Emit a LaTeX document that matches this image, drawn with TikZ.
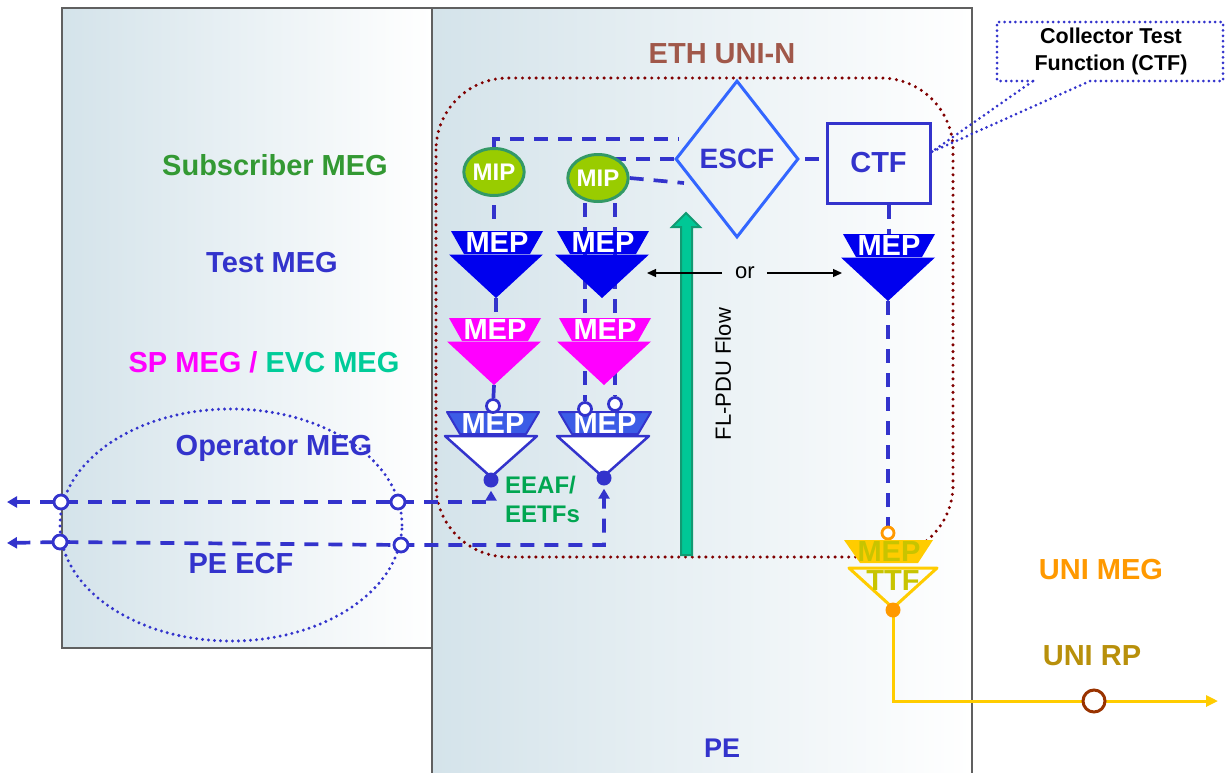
\documentclass[tikz,border=0pt]{standalone}
\usepackage{fontspec}
\setmainfont{Liberation Sans}
\usetikzlibrary{arrows.meta,shapes.geometric,calc}

\definecolor{megblue}{HTML}{3333CC}
\definecolor{testblue}{HTML}{0000EE}
\definecolor{spmag}{HTML}{FF00FF}
\definecolor{evcgreen}{HTML}{00CC99}
\definecolor{subgreen}{HTML}{339933}
\definecolor{mipfill}{HTML}{99CC00}
\definecolor{mipline}{HTML}{339966}
\definecolor{ethbrown}{HTML}{A0584A}
\definecolor{escfblue}{HTML}{3366FF}
\definecolor{opband}{HTML}{3C5CE6}
\definecolor{eeafgreen}{HTML}{00A651}
\definecolor{flowfill}{HTML}{00C896}
\definecolor{flowline}{HTML}{129A72}
\definecolor{ttfgold}{HTML}{FFCC00}
\definecolor{ttftext}{HTML}{C8C400}
\definecolor{uniorange}{HTML}{FF9900}
\definecolor{unirp}{HTML}{B8900B}
\definecolor{rpbrown}{HTML}{993300}
\definecolor{unidots}{HTML}{800000}
\definecolor{boxgray}{HTML}{606060}
\definecolor{shadeL}{HTML}{D4E3EA}

\pgfdeclarelayer{bg}
\pgfdeclarelayer{back}
\pgfsetlayers{bg,back,main}

\tikzset{
  lbl/.style={font=\fontsize{29}{34}\selectfont\bfseries, inner sep=0, anchor=base},
  conn/.style={draw=megblue, line width=3.7pt, dash pattern=on 14pt off 10pt},
  dots/.style={line width=3.4pt, dash pattern=on 0pt off 6.8pt, line cap=round},
  fine dots/.style={line width=3.3pt, dash pattern=on 0pt off 6pt, line cap=round},
  port/.style={circle, draw=megblue, fill=white, line width=2.8pt, minimum size=14pt, inner sep=0},
  blob/.style={circle, fill=megblue, minimum size=15pt, inner sep=0},
  mip/.style={ellipse, fill=mipfill, draw=mipline, line width=3pt, minimum width=56pt,
    minimum height=47pt, inner sep=0, text=white, font=\fontsize{24}{28}\selectfont\bfseries},
  meptext/.style={text=white, font=\fontsize{29}{34}\selectfont\bfseries, inner sep=0},
  orarrow/.style={draw=black, line width=1.3pt, -{Triangle[length=9pt,width=8pt]}},
  pane/.style={draw=boxgray, line width=2pt, left color=shadeL, right color=white},
  pics/mepsolid/.style={code={
    \fill[#1] (-46,0) -- (46,0) -- (33,23) -- (-33,23) -- cycle;
    \fill[#1] (-48,23.5) -- (46,23.5) -- (-1,67) -- cycle;
    \node[meptext] (-lab) at (0,12) {MEP};
    \coordinate (-top) at (0,0);
    \coordinate (-tip) at (-1,67);
  }},
  pics/mepopen/.style={code={
    \filldraw[fill=opband, draw=megblue, line width=2pt, line join=round]
      (-46,0) -- (46,0) -- (33,22) -- (-33,22) -- cycle;
    \filldraw[fill=white, draw=megblue, line width=2.5pt, line join=round]
      (-48,24) -- (44,24) -- (-2,65) -- cycle;
    \node[meptext] (-lab) at (0,12) {MEP};
    \coordinate (-top) at (0,0);
    \coordinate (-tip) at (-2,65);
  }},
}

\begin{document}
\begin{tikzpicture}[x=1pt,y=-1pt]
\useasboundingbox (0,0) rectangle (1225,772);

% equipment panes
\begin{pgfonlayer}{bg}
  \draw[pane] (62,8) rectangle (432,648);
  \draw[pane] (432,8) rectangle (972,776);
\end{pgfonlayer}

% ETH UNI-N boundary
\begin{pgfonlayer}{back}
  \draw[dots, unidots, rounded corners=72pt] (436,78) rectangle (953,557);
\end{pgfonlayer}

% MEG labels
\node[lbl, text=subgreen] (lsub) at (275,175) {Subscriber MEG};
\node[lbl, text=megblue] (ltest) at (272,272) {Test MEG};
\node[lbl] (lsp) at (264,372) {\textcolor{spmag}{SP MEG /} \textcolor{evcgreen}{EVC MEG}};
\node[lbl, text=megblue] (lop) at (274,455) {Operator MEG};
\node[lbl, text=megblue] (lecf) at (241,573) {PE ECF};
\node[lbl, text=ethbrown] (leth) at (722,63) {ETH UNI-N};
\node[lbl, text=megblue, font=\fontsize{27}{32}\selectfont\bfseries] (lpe) at (722,757) {PE};
\node[lbl, text=uniorange] (lunimeg) at (1101,579) {UNI MEG};
\node[lbl, text=unirp] (lunirp) at (1092,665) {UNI RP};

% PE ECF zone
\node[ellipse, draw=megblue, fine dots, minimum width=342pt, minimum height=232pt, inner sep=0]
  (ecfzone) at (231,525) {};

% FL-PDU flow arrow
\filldraw[fill=flowfill, draw=flowline, line width=2pt, line join=miter]
  (681,555) -- (681,227) -- (672,227) -- (686,213) -- (700,227) -- (692,227) -- (692,555) -- cycle;
\node[rotate=90, font=\fontsize{22}{26}\selectfont, inner sep=0] (flow) at (723,374) {FL-PDU Flow};

% functions
\node[mip] (mip1) at (494,172) {MIP};
\node[mip] (mip2) at (598,178) {MIP};
\node[diamond, draw=escfblue, line width=3pt, minimum width=123pt, minimum height=157pt,
  aspect=0.78, inner sep=0, text=megblue, font=\fontsize{28}{33}\selectfont\bfseries]
  (escf) at (737,159) {ESCF};
\node[draw=megblue, line width=3pt, minimum width=103pt, minimum height=80pt, inner sep=0,
  text=megblue, font=\fontsize{29}{34}\selectfont\bfseries] (ctf) at (878.5,163) {CTF};

% maintenance end points
\pic (mA) at (497,231) {mepsolid=testblue};
\pic (mB) at (603,231) {mepsolid=testblue};
\pic (mC) at (889,234) {mepsolid=testblue};
\pic (mD) at (495,318) {mepsolid=spmag};
\pic (mE) at (605,318) {mepsolid=spmag};
\pic (mF) at (493,412) {mepopen};
\pic (mG) at (605,412) {mepopen};

\node[port, minimum size=13pt] (pF) at (493,406) {};
\node[port, minimum size=13pt] (pG1) at (585,409) {};
\node[port, minimum size=13pt] (pG2) at (615,404) {};
\node[blob] (dF) at (491,480) {};
\node[blob] (dG) at (604,478) {};

\node[font=\fontsize{24}{29}\selectfont\bfseries, text=eeafgreen, align=left, inner sep=0,
  anchor=north west] (eeaf) at (505,476) {EEAF/\\EETFs};

% TTF
\node[port, draw=uniorange, minimum size=12pt] (pT) at (888,533) {};
\fill[ttfgold] (844,540) -- (933,540) -- (918,563) -- (860,563) -- cycle;
\draw[ttfgold, line width=3pt, line join=round] (849,568) -- (937,568) -- (893,608) -- cycle;
\node[meptext, text=ttftext] (ttfmep) at (889,552) {MEP};
\node[meptext, text=ttftext] (ttflab) at (893,581) {TTF};
\node[circle, fill=uniorange, minimum size=15pt, inner sep=0] (dT) at (893,610) {};

% UNI reference point
\coordinate (uniend) at (1218,701);
\begin{pgfonlayer}{back}
  \draw[ttfgold, line width=3pt, -{Triangle[length=12pt,width=11pt]}]
    (dT.center) -- (dT.center |- uniend) -- (uniend);
\end{pgfonlayer}
\node[circle, draw=rpbrown, fill=white, line width=3pt, minimum size=22pt, inner sep=0]
  (rp) at (1094,701) {};

% PE ECF ports
\node[port] (pl1) at (61,502) {};
\node[port] (pr1) at (398,502) {};
\node[port] (pl2) at (60,542) {};
\node[port] (pr2) at (401,545) {};
\coordinate (lend1) at (7,502);
\coordinate (lend2) at (7,543);

% dashed MEG connections
\begin{pgfonlayer}{back}
  \draw[conn] (mip1.north) |- ([xshift=5pt,yshift=20pt]escf.west);
  \draw[conn] (escf.west) -- (escf.west -| mip2.center);
  \draw[conn] (mip2.east) -- ([xshift=10pt,yshift=-24pt]escf.west);
  \draw[conn, shorten <=5pt] (escf.east) -- (escf.east -| ctf.west);
  \draw[conn, shorten <=8pt, shorten >=6pt] (mip1.south) -- (mip1.south |- mA-top);
  \draw[conn] (mA-tip) -- (mA-tip |- mD-top);
  \draw[conn] (mD-tip) -- (pF);
  \draw[conn] (pG1 |- mip2.south) -- (pG1);
  \draw[conn] (pG2 |- mip2.south) -- (pG2);
  \draw[conn] (mC-lab |- ctf.south) -- (mC-top);
  \draw[conn] (mC-tip) -- (pT);
  \draw[conn, {Triangle[length=10pt,width=11pt]}-{Triangle[length=10pt,width=11pt]}, shorten >=3pt]
    (lend1) -- (pl1.center) -- (pr1.center) -- (dF |- pr1) -- (dF.south);
  \draw[conn, {Triangle[length=10pt,width=11pt]}-{Triangle[length=10pt,width=11pt]}, shorten >=3pt]
    (lend2) -- (pl2.center) -- (pr2.center) -- (dG |- pr2) -- (dG.south);
\end{pgfonlayer}

% "or" choice between MEPs
\node[font=\fontsize{22}{26}\selectfont, inner sep=0] (ortext) at (745,273) {or};
\coordinate (orL) at (647,273);
\coordinate (orR) at (842,273);
\draw[orarrow, shorten <=13pt] (ortext.west) -- (orL);
\draw[orarrow, shorten <=12pt] (ortext.east) -- (orR);

% CTF callout
\node[font=\fontsize{21.5}{27}\selectfont\bfseries, align=center, inner sep=0]
  (ctfnote) at (1111,51) {Collector Test\\Function (CTF)};
\draw[megblue, fine dots, line width=3pt, dash pattern=on 0pt off 5.4pt]
  (1033,81) -- (997,81) -- (997,22) -- (1223,22) -- (1223,81) -- (1090,81)
  -- ([yshift=11pt]ctf.east) -- cycle;

\end{tikzpicture}
\end{document}
